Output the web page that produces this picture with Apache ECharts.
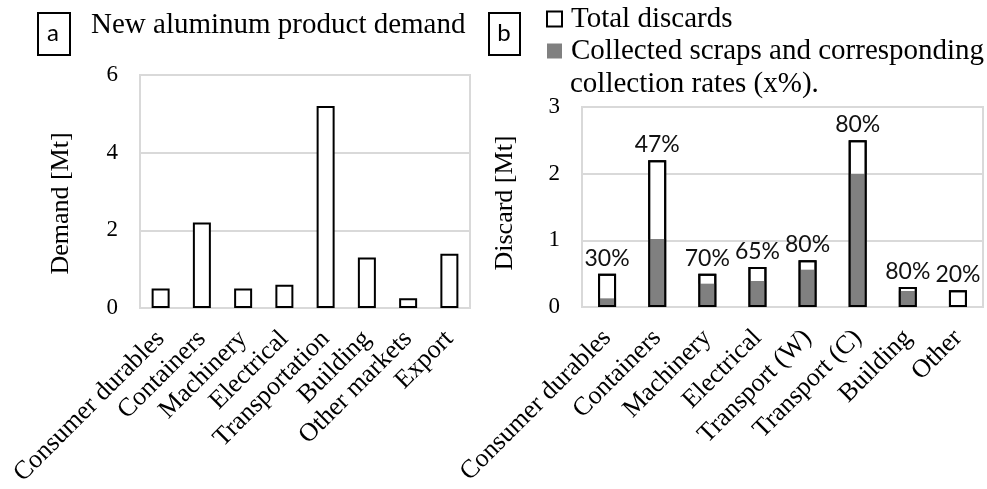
<!DOCTYPE html>
<html>
<head>
<meta charset="utf-8">
<script src="https://cdn.jsdelivr.net/npm/echarts@6/dist/echarts.min.js"></script>
<style>html,body{margin:0;padding:0;background:#fff}#c{width:987px;height:489px}</style>
</head>
<body>
<div id="c"></div>
<script>
// ---- data ----
const demandCategories = ['Consumer durables','Containers','Machinery','Electrical','Transportation','Building','Other markets','Export'];
const demandValues = [0.5, 2.2, 0.5, 0.6, 5.2, 1.3, 0.25, 1.4];
const demandTicks = [0, 2, 4, 6];

const discardCategories = ['Consumer durables','Containers','Machinery','Electrical','Transport (W)','Transport (C)','Building','Other'];
const totalDiscards = [0.5, 2.2, 0.5, 0.6, 0.7, 2.5, 0.3, 0.25];
const collectedScraps = [0.13, 1.02, 0.35, 0.39, 0.56, 2.0, 0.24, 0];
const collectionRates = ['30%','47%','70%','65%','80%','80%','80%','20%'];
const discardTicks = [0, 1, 2, 3];

const SERIF = '"Liberation Serif", "Times New Roman", serif';
const SANS = 'Lato, "Open Sans", sans-serif';
const GRID = '#d9d9d9';

const chart = echarts.init(document.getElementById('c'), null, {renderer: 'canvas'});

function yAxis(idx, ticks, name, gap, pad) {
  return {
    type: 'value', gridIndex: idx, min: ticks[0], max: ticks[ticks.length - 1],
    interval: ticks[1] - ticks[0],
    name: name, nameLocation: 'middle', nameGap: gap,
    nameTextStyle: {fontFamily: SERIF, fontSize: 26, color: '#000', padding: pad},
    axisLine: {show: false}, axisTick: {show: false},
    axisLabel: {fontFamily: SERIF, fontSize: 23, color: '#000', margin: 22},
    splitLine: {lineStyle: {color: GRID, width: 2}}
  };
}
function xAxis(idx, cats) {
  return {
    type: 'category', gridIndex: idx, data: cats,
    axisLine: {lineStyle: {color: GRID, width: 2}}, axisTick: {show: false},
    axisLabel: {fontFamily: SERIF, fontSize: 26, color: '#000', rotate: 45, margin: 27, interval: 0}
  };
}

chart.setOption({
  animation: false,
  title: {
    text: 'New aluminum product demand', left: 91, top: 11, padding: 0,
    textStyle: {fontFamily: SERIF, fontSize: 29, fontWeight: 'normal', color: '#000'}
  },
  legend: {
    orient: 'vertical', left: 546, top: 4, padding: 0, itemWidth: 15, itemHeight: 15, itemGap: 2,
    selectedMode: false,
    textStyle: {fontFamily: SERIF, fontSize: 29, color: '#000', lineHeight: 30, padding: [0, 0, 0, 4]},
    data: [
      {name: 'Total discards', icon: 'rect', itemStyle: {color: '#fff', borderColor: '#000', borderWidth: 2}},
      {name: 'Collected scraps and corresponding', icon: 'rect', itemStyle: {color: '#808080', borderWidth: 0}}
    ]
  },
  grid: [
    {left: 140, right: 517, top: 75, bottom: 181, show: true, borderColor: GRID, borderWidth: 2, containLabel: false},
    {left: 582, right: 4, top: 107, bottom: 182, show: true, borderColor: GRID, borderWidth: 2, containLabel: false}
  ],
  xAxis: [xAxis(0, demandCategories), xAxis(1, discardCategories)],
  yAxis: [yAxis(0, demandTicks, 'Demand [Mt]', 66, [0, 24, 0, 0]), yAxis(1, discardTicks, 'Discard [Mt]', 64, [0, 0, 0, 8])],
  series: [
    {
      type: 'bar', name: 'Demand', xAxisIndex: 0, yAxisIndex: 0, data: demandValues, barWidth: 18,
      itemStyle: {color: '#fff', borderColor: '#000', borderWidth: 2}
    },
    {
      type: 'bar', name: 'Total discards', xAxisIndex: 1, yAxisIndex: 1, data: totalDiscards, barWidth: 18,
      barGap: '-100%', z: 2,
      itemStyle: {color: '#fff', borderColor: '#000', borderWidth: 2}
    },
    {
      type: 'bar', name: 'Collected scraps and corresponding', xAxisIndex: 1, yAxisIndex: 1, data: collectedScraps, barWidth: 18,
      barGap: '-100%', z: 3,
      itemStyle: {color: '#808080', borderWidth: 0}
    },
    {
      type: 'bar', name: 'outline', xAxisIndex: 1, yAxisIndex: 1, data: totalDiscards, barWidth: 18,
      barGap: '-100%', z: 4, tooltip: {show: false},
      itemStyle: {color: 'rgba(0,0,0,0)', borderColor: '#000', borderWidth: 2},
      label: {
        show: true, position: 'top', distance: 4,
        fontFamily: SANS, fontSize: 23, color: '#111',
        formatter: p => collectionRates[p.dataIndex]
      }
    }
  ],
  graphic: [
    {type: 'rect', left: 37, top: 12, shape: {width: 32, height: 42}, style: {fill: '#fff', stroke: '#000', lineWidth: 2}},
    {type: 'text', x: 53, y: 33, style: {text: 'a', fontFamily: SANS, fontSize: 24, fill: '#000', align: 'center', verticalAlign: 'middle'}},
    {type: 'rect', left: 488, top: 12, shape: {width: 31, height: 42}, style: {fill: '#fff', stroke: '#000', lineWidth: 2}},
    {type: 'text', x: 504, y: 33, style: {text: 'b', fontFamily: SANS, fontSize: 24, fill: '#000', align: 'center', verticalAlign: 'middle'}},
    {type: 'text', x: 570, y: 84, style: {text: 'collection rates (x%).', fontFamily: SERIF, fontSize: 29, fill: '#000', align: 'left', verticalAlign: 'middle'}}
  ]
});
</script>
</body>
</html>
